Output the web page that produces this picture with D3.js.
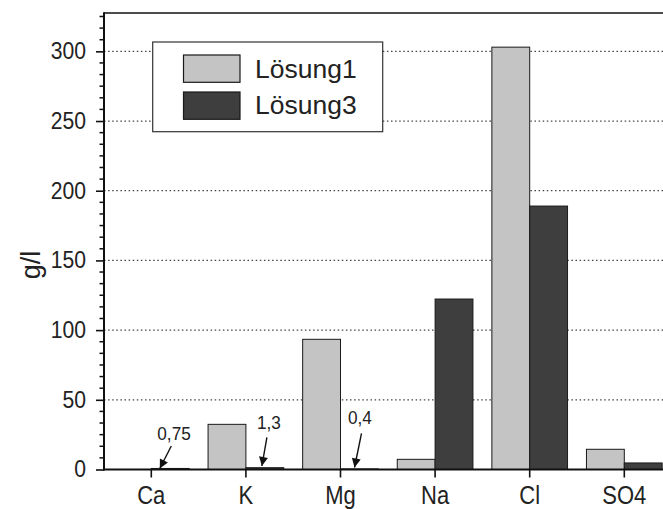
<!DOCTYPE html>
<html>
<head>
<meta charset="utf-8">
<script src="https://cdn.jsdelivr.net/npm/d3@7"></script>
<style>
  body { margin: 0; background: #fff; }
  svg text { font-family: "Liberation Sans", Arial, sans-serif; fill: #222; }
</style>
</head>
<body>
<div id="chart"></div>
<script>
// data
var categories = ["Ca", "K", "Mg", "Na", "Cl", "SO4"];
var seriesNames = ["Lösung1", "Lösung3"];
var loesung1 = [0, 32.4, 93.4, 7.3, 303, 14.5];
var loesung3 = [0.75, 1.3, 0.4, 122.3, 189, 4.7];
var yTicks = [0, 50, 100, 150, 200, 250, 300];
var yGrid = [50, 100, 150, 200, 250, 300];
var annLabels = ["0,75", "1,3", "0,4"];
var annCats = ["Ca", "K", "Mg"];

var W = 663, H = 509;
var margin = {top: 13, left: 104, bottom: 39.5};
var plotRight = 671.6;
var colors = ["#c4c4c4", "#3e3e3e"];

var svg = d3.select("#chart").append("svg")
  .attr("width", W).attr("height", H);

var x = d3.scaleBand().domain(categories)
  .range([margin.left, plotRight])
  .paddingInner(0.2).paddingOuter(0.1);
var xSub = d3.scaleBand().domain(seriesNames).range([0, x.bandwidth()]);
var y = d3.scaleLinear().domain([0, 327.5]).range([H - margin.bottom, margin.top]);

var rows = categories.map(function(c, i) {
  return {cat: c, vals: [
    {name: seriesNames[0], v: loesung1[i]},
    {name: seriesNames[1], v: loesung3[i]}
  ]};
});

// dotted grid
svg.append("g").selectAll("line")
  .data(yGrid).enter().append("line")
  .attr("x1", margin.left).attr("x2", plotRight)
  .attr("y1", function(d) { return y(d); })
  .attr("y2", function(d) { return y(d); })
  .attr("stroke", "#444")
  .attr("stroke-width", 1.3)
  .attr("stroke-dasharray", "1.5,2.6");

// bars
svg.append("g").selectAll("g")
  .data(rows).enter().append("g")
  .attr("transform", function(d) { return "translate(" + x(d.cat) + ",0)"; })
  .selectAll("rect")
  .data(function(d) { return d.vals; })
  .enter().append("rect")
  .attr("x", function(d) { return xSub(d.name); })
  .attr("width", xSub.bandwidth())
  .attr("y", function(d) { return y(d.v); })
  .attr("height", function(d) { return y(0) - y(d.v); })
  .attr("fill", function(d, i) { return colors[i]; })
  .attr("stroke", "#1a1a1a")
  .attr("stroke-width", 1);

// top frame line
svg.append("line")
  .attr("x1", margin.left).attr("x2", plotRight)
  .attr("y1", margin.top).attr("y2", margin.top)
  .attr("stroke", "#111").attr("stroke-width", 1.6);

// y axis
var yAxis = svg.append("g")
  .attr("transform", "translate(" + margin.left + ",0)")
  .call(d3.axisLeft(y).tickValues(yTicks).tickSize(8).tickPadding(10));
yAxis.select(".domain").remove();
yAxis.selectAll(".tick line").attr("stroke", "#111").attr("stroke-width", 1.6);
yAxis.selectAll(".tick text")
  .style("font-family", "Liberation Sans, Arial, sans-serif")
  .style("font-size", "23px").attr("fill", "#222")
  .attr("x", -18 / 0.92)
  .attr("transform", "scale(0.92,1)");

var minor = d3.range(0, 40).map(function(k) { return k * 50 / 6; })
  .filter(function(v) { return v <= 327.5 && Math.abs(v / 50 - Math.round(v / 50)) > 1e-6; });
svg.append("g").selectAll("line")
  .data(minor).enter().append("line")
  .attr("x1", margin.left - 4.5).attr("x2", margin.left)
  .attr("y1", function(d) { return y(d); })
  .attr("y2", function(d) { return y(d); })
  .attr("stroke", "#111").attr("stroke-width", 1.5);

svg.append("line")
  .attr("x1", margin.left).attr("x2", margin.left)
  .attr("y1", margin.top - 0.8).attr("y2", y(0) + 1)
  .attr("stroke", "#111").attr("stroke-width", 2);

// x axis
svg.append("line")
  .attr("x1", margin.left).attr("x2", plotRight)
  .attr("y1", y(0)).attr("y2", y(0))
  .attr("stroke", "#111").attr("stroke-width", 2);

var xTicks = svg.append("g").selectAll("g")
  .data(categories).enter().append("g")
  .attr("transform", function(d) { return "translate(" + (x(d) + x.bandwidth() / 2) + "," + y(0) + ")"; });
xTicks.append("line").attr("y1", 0).attr("y2", 8)
  .attr("stroke", "#111").attr("stroke-width", 1.6);
xTicks.append("text")
  .attr("y", 34.8)
  .attr("text-anchor", "middle")
  .attr("transform", "scale(0.88,1)")
  .style("font-size", "25px")
  .text(function(d) { return d; });

// y label
svg.append("text")
  .attr("transform", "translate(40,265) rotate(-90)")
  .attr("text-anchor", "middle")
  .style("font-size", "27px")
  .text("g/l");

// legend
var leg = svg.append("g");
leg.append("rect")
  .attr("x", 152.7).attr("y", 42).attr("width", 230).attr("height", 89.7)
  .attr("fill", "#fff").attr("stroke", "#333").attr("stroke-width", 1.2);
seriesNames.forEach(function(s, i) {
  leg.append("rect")
    .attr("x", 183.5).attr("y", 55 + i * 37).attr("width", 56.5).attr("height", 27.3)
    .attr("fill", colors[i]).attr("stroke", "#1a1a1a").attr("stroke-width", 1.2);
  leg.append("text")
    .attr("x", 255).attr("y", 77.7 + i * 35.8)
    .style("font-size", "26.5px")
    .text(s);
});

// annotations for the tiny Lösung3 values
var annTextDx = [6, 11, 7.5], annTextY = [440, 429.3, 424];
var annArrow = [
  [[20, 446], [8.5, 468.5]],
  [[21, 437.3], [16, 466]],
  [[21, 433.3], [14, 467.5]]
];
var defs = svg.append("defs");
defs.append("marker").attr("id", "ah")
  .attr("viewBox", "0 0 10 10").attr("refX", 10).attr("refY", 5)
  .attr("markerWidth", 12).attr("markerHeight", 9).attr("markerUnits", "userSpaceOnUse")
  .attr("orient", "auto")
  .append("path").attr("d", "M0,0 L10,5 L0,10 Z").attr("fill", "#111");

annLabels.forEach(function(lab, i) {
  var x0 = x(annCats[i]) + xSub(seriesNames[1]);
  svg.append("text")
    .attr("x", (x0 + annTextDx[i]) / 0.93).attr("y", annTextY[i])
    .attr("transform", "scale(0.93,1)")
    .style("font-size", "18.5px")
    .text(lab);
  svg.append("line")
    .attr("x1", x0 + annArrow[i][0][0]).attr("y1", annArrow[i][0][1])
    .attr("x2", x0 + annArrow[i][1][0]).attr("y2", annArrow[i][1][1])
    .attr("stroke", "#111").attr("stroke-width", 1.4)
    .attr("marker-end", "url(#ah)");
});
</script>
</body>
</html>
